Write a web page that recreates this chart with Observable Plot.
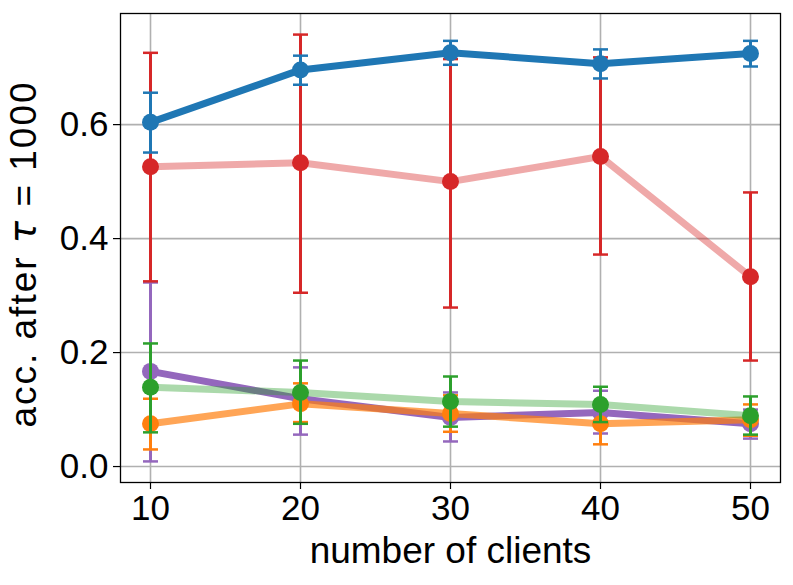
<!DOCTYPE html>
<html><head><meta charset="utf-8">
<script src="https://cdn.jsdelivr.net/npm/d3@7"></script>
<script src="https://cdn.jsdelivr.net/npm/@observablehq/plot@0.6"></script>
<style>body{margin:0;background:#fff}#chart svg{display:block}</style>
</head><body><div id="chart"></div>
<script>
const clients = [10, 20, 30, 40, 50];
const yTicks = [0.0, 0.2, 0.4, 0.6];
const xLabel = "number of clients";
const yLabel = "acc. after τ = 1000";

const blueMean = [0.604, 0.696, 0.726, 0.707, 0.725];
const blueLo   = [0.551, 0.670, 0.705, 0.681, 0.702];
const blueHi   = [0.656, 0.721, 0.747, 0.732, 0.747];

const redMean = [0.526, 0.533, 0.500, 0.544, 0.333];
const redLo   = [0.325, 0.305, 0.279, 0.372, 0.186];
const redHi   = [0.726, 0.758, 0.715, 0.718, 0.481];

const purpleMean = [0.167, 0.119, 0.086, 0.095, 0.075];
const purpleLo   = [0.009, 0.056, 0.044, 0.058, 0.049];
const purpleHi   = [0.323, 0.174, 0.130, 0.133, 0.100];

const greenMean = [0.139, 0.130, 0.114, 0.109, 0.089];
const greenLo   = [0.060, 0.075, 0.070, 0.078, 0.056];
const greenHi   = [0.216, 0.186, 0.158, 0.140, 0.123];

const orangeMean = [0.075, 0.110, 0.093, 0.075, 0.082];
const orangeLo   = [0.030, 0.078, 0.061, 0.039, 0.054];
const orangeHi   = [0.119, 0.146, 0.125, 0.110, 0.109];

const series = [
  {name: "purple", color: "#9467bd", lineOpacity: 1, mean: purpleMean, lo: purpleLo, hi: purpleHi},
  {name: "orange", color: "#ff7f0e", lineOpacity: 0.7, mean: orangeMean, lo: orangeLo, hi: orangeHi},
  {name: "green", color: "#2ca02c", lineOpacity: 0.4, mean: greenMean, lo: greenLo, hi: greenHi},
  {name: "red", color: "#d62728", lineOpacity: 0.4, mean: redMean, lo: redLo, hi: redHi},
  {name: "blue", color: "#1f77b4", lineOpacity: 1, mean: blueMean, lo: blueLo, hi: blueHi}
];

const capSymbol = {
  draw(ctx, size) {
    const r = Math.sqrt(size / Math.PI);
    ctx.moveTo(-r, 0);
    ctx.lineTo(r, 0);
  }
};

const font = "'Liberation Sans', Arial, Helvetica, sans-serif";
const seriesMarks = series.flatMap(s => {
  const rows = clients.map((c, i) => ({x: c, y: s.mean[i], lo: s.lo[i], hi: s.hi[i]}));
  return [
    Plot.line(rows, {x: "x", y: "y", stroke: s.color, strokeOpacity: s.lineOpacity, strokeWidth: 7}),
    Plot.ruleX(rows, {x: "x", y1: "lo", y2: "hi", stroke: s.color, strokeWidth: 3}),
    Plot.dot(rows, {x: "x", y: "lo", symbol: capSymbol, r: 7.5, stroke: s.color, strokeWidth: 2.5, fill: "none"}),
    Plot.dot(rows, {x: "x", y: "hi", symbol: capSymbol, r: 7.5, stroke: s.color, strokeWidth: 2.5, fill: "none"}),
    Plot.dot(rows, {x: "x", y: "y", r: 8.5, fill: s.color, stroke: "none"})
  ];
});

const chart = Plot.plot({
  width: 793,
  height: 585,
  marginLeft: 120,
  marginRight: 13,
  marginTop: 13,
  marginBottom: 103,
  style: {fontFamily: font, background: "#fff", color: "#000"},
  x: {domain: [8, 52]},
  y: {domain: [-0.028, 0.795]},
  marks: [
    Plot.gridX(clients, {stroke: "#b0b0b0", strokeOpacity: 1, strokeWidth: 1.6}),
    Plot.gridY(yTicks, {stroke: "#b0b0b0", strokeOpacity: 1, strokeWidth: 1.6}),
    Plot.axisX(clients, {tickSize: 7, tickPadding: 6, fontSize: 35, label: null, strokeWidth: 1.2}),
    Plot.axisY(yTicks, {tickSize: 7, tickPadding: 5, fontSize: 35, label: null, tickFormat: d3.format(".1f"), strokeWidth: 1.2}),
    ...seriesMarks,
    Plot.frame({stroke: "#000", strokeWidth: 1.3}),
    Plot.text([xLabel], {frameAnchor: "bottom", dy: 80, fontSize: 37, text: d => d, fill: "#000"}),
    Plot.text([yLabel], {frameAnchor: "left", dx: -96, dy: 6, rotate: -90, textAnchor: "middle", fontSize: 37, text: d => d, fill: "#000"})
  ]
});

document.getElementById("chart").appendChild(chart);

// italicize the tau in the y label (mathtext-like spacing)
d3.select(chart).selectAll("text").each(function () {
  if (this.textContent === yLabel) {
    const el = d3.select(this).attr("letter-spacing", "2px");
    el.text(null);
    el.append("tspan").text("acc. after ");
    el.append("tspan").attr("font-style", "italic").attr("font-family", "'DejaVu Sans', sans-serif").text("τ");
    el.append("tspan").text(" = 1000");
  }
});
</script>
</body></html>
